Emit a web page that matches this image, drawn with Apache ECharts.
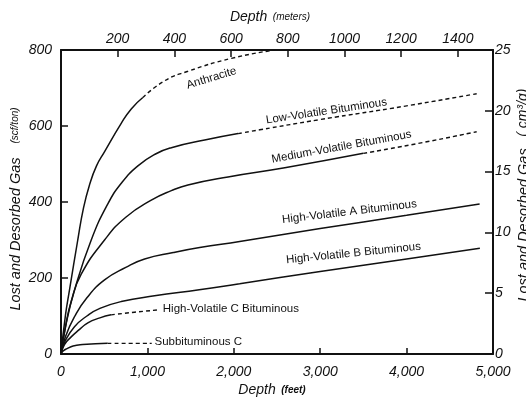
<!DOCTYPE html>
<html>
<head>
<meta charset="utf-8">
<script src="https://cdn.jsdelivr.net/npm/echarts@6/dist/echarts.min.js"></script>
<style>
html,body{margin:0;padding:0;background:#fff;}
#chart{width:526px;height:399px;}
</style>
</head>
<body>
<div id="chart"></div>
<script>
// ---- Data (depth in feet, gas content in scf/ton) ----
const anthraciteSolid = [[0,0],[52,103],[98,168],[194,300],[260,384],[330,445],[411,495],[503,532],[697,607],[813,645],[947,675]];
const anthraciteDashed = [[947,675],[1199,719],[1469,744],[1972,778],[2474,800]];
const lowVolSolid = [[0,0],[60,80],[156,168],[350,300],[542,395],[700,450],[890,495],[1100,527],[1277,543],[1663,563],[2050,580]];
const lowVolDashed = [[2050,580],[2300,590],[3000,617],[4000,653],[4811,685]];
const medVolSolid = [[0,0],[50,70],[120,140],[234,210],[504,300],[750,360],[1045,405],[1277,430],[1469,445],[1933,466],[2590,490],[3500,528]];
const medVolDashed = [[3500,528],[4200,557],[4811,585]];
const hvaSolid = [[0,0],[50,45],[156,98],[300,148],[504,195],[750,228],[968,250],[1300,267],[1605,280],[2068,296],[3000,330],[4000,365],[4845,395]];
const hvbSolid = [[0,0],[50,35],[156,72],[300,100],[450,120],[697,138],[1083,153],[1600,169],[2068,185],[3000,217],[4000,250],[4848,278]];
const hvcSolid = [[0,0],[40,25],[118,45],[200,62],[311,82],[450,95],[580,103]];
const hvcDashed = [[580,103],[850,110],[1130,116]];
const subCSolid = [[0,0],[25,8],[70,14],[140,21],[250,25],[400,27],[540,28]];
const subCDashed = [[540,28],[800,28],[1050,28]];

// Curve labels: [text, depth ft, gas scf/ton, rotation deg, align]
const curveLabels = [
  ['Anthracite', 1742, 726, 17, 'center'],
  ['Low-Volatile Bituminous', 3073, 639, 8.6, 'center'],
  ['Medium-Volatile Bituminous', 3247, 545, 10.3, 'center'],
  ['High-Volatile A Bituminous', 3339, 374, 6.8, 'center'],
  ['High-Volatile B Bituminous', 3385, 265, 5.8, 'center'],
  ['High-Volatile C Bituminous', 1178, 118, 0, 'left'],
  ['Subbituminous C', 1082, 31, 0, 'left']
];

const meterMax = 5000 / 3.28084;

const chart = echarts.init(document.getElementById('chart'), null, {renderer: 'canvas'});
const FONT = '"Liberation Sans", Arial, Helvetica, sans-serif';
const axisLineStyle = {color: '#111', width: 2};
const tickLbl = {color: '#111', fontSize: 14, fontStyle: 'italic', fontFamily: FONT};

function solid(data) {
  return {type: 'line', data: data, showSymbol: false, smooth: 0.5,
    lineStyle: {color: '#111', width: 1.5}, silent: true, z: 3};
}
function dashed(data) {
  return {type: 'line', data: data, showSymbol: false, smooth: 0.5,
    lineStyle: {color: '#111', width: 1.4, type: [4, 3]}, silent: true, z: 3};
}

chart.setOption({
  animation: false,
  backgroundColor: '#fff',
  grid: {left: 61, right: 33, top: 50, bottom: 45, containLabel: false, outerBoundsMode: 'none'},
  xAxis: [{
    type: 'value', position: 'bottom', min: 0, max: 5000, interval: 1000,
    axisLine: {show: true, onZero: false, lineStyle: axisLineStyle},
    axisTick: {show: true, inside: true, length: 6, lineStyle: {color: '#111', width: 1.5}},
    axisLabel: Object.assign({}, tickLbl, {margin: 11, formatter: v => v.toLocaleString('en-US')}),
    splitLine: {show: false},
    name: '{a|Depth}{b|  (feet)}', nameLocation: 'middle', nameGap: 29, nameMoveOverlap: false,
    nameTextStyle: {padding: [0, 10, 0, 0], rich: {
      a: {fontSize: 14, fontStyle: 'italic', fontFamily: FONT, color: '#111'},
      b: {fontSize: 10, fontStyle: 'italic', fontWeight: 'bold', fontFamily: FONT, color: '#111'}}}
  }, {
    type: 'value', position: 'top', min: 0, max: meterMax, interval: 200,
    axisLine: {show: true, onZero: false, lineStyle: axisLineStyle},
    axisTick: {show: true, inside: true, length: 7, lineStyle: {color: '#111', width: 1.5}},
    axisLabel: Object.assign({}, tickLbl, {margin: 4, formatter: v => (v > 0 && Math.abs(v % 200) < 1e-6) ? String(v) : ''}),
    splitLine: {show: false},
    name: '{a|Depth}{b|  (meters)}', nameLocation: 'middle', nameGap: 26, nameMoveOverlap: false,
    nameTextStyle: {padding: [0, 14, 0, 0], rich: {
      a: {fontSize: 14, fontStyle: 'italic', fontFamily: FONT, color: '#111'},
      b: {fontSize: 10, fontStyle: 'italic', fontFamily: FONT, color: '#111'}}}
  }],
  yAxis: [{
    type: 'value', position: 'left', min: 0, max: 800, interval: 200,
    axisLine: {show: true, onZero: false, lineStyle: axisLineStyle},
    axisTick: {show: true, inside: true, length: 7, lineStyle: {color: '#111', width: 1.5}},
    axisLabel: Object.assign({}, tickLbl, {margin: 9}),
    splitLine: {show: false},
    name: '{a|Lost and Desorbed Gas}{b|     (scf/ton)}', nameLocation: 'middle', nameGap: 38, nameMoveOverlap: false,
    nameTextStyle: {padding: [0, 14, 0, 0], rich: {
      a: {fontSize: 14.5, fontStyle: 'italic', fontFamily: FONT, color: '#111'},
      b: {fontSize: 10, fontStyle: 'italic', fontFamily: FONT, color: '#111'}}}
  }, {
    type: 'value', position: 'right', min: 0, max: 25, interval: 5,
    axisLine: {show: true, onZero: false, lineStyle: axisLineStyle},
    axisTick: {show: true, inside: true, length: 8, lineStyle: {color: '#111', width: 1.5}},
    axisLabel: Object.assign({}, tickLbl, {margin: 2}),
    splitLine: {show: false},
    name: '{a|Lost and Desorbed Gas}{b|   ( cm³/g)}', nameLocation: 'middle', nameGap: 23, nameMoveOverlap: false,
    nameTextStyle: {padding: [0, 0, 0, 14], rich: {
      a: {fontSize: 14.5, fontStyle: 'italic', fontFamily: FONT, color: '#111'},
      b: {fontSize: 14, fontStyle: 'italic', fontFamily: FONT, color: '#111'}}}
  }],
  series: [
    solid(anthraciteSolid), dashed(anthraciteDashed),
    solid(lowVolSolid), dashed(lowVolDashed),
    solid(medVolSolid), dashed(medVolDashed),
    solid(hvaSolid), solid(hvbSolid),
    solid(hvcSolid), dashed(hvcDashed),
    solid(subCSolid), dashed(subCDashed)
  ]
});

const graphics = curveLabels.map(function (l) {
  const p = chart.convertToPixel({xAxisIndex: 0, yAxisIndex: 0}, [l[1], l[2]]);
  return {
    type: 'text', x: p[0], y: p[1], rotation: l[3] * Math.PI / 180, z: 10,
    style: {text: l[0], x: 0, y: 0, textAlign: l[4], textVerticalAlign: 'middle',
      font: '11.5px ' + FONT, fill: '#111'}
  };
});
chart.setOption({graphic: graphics});
</script>
</body>
</html>
